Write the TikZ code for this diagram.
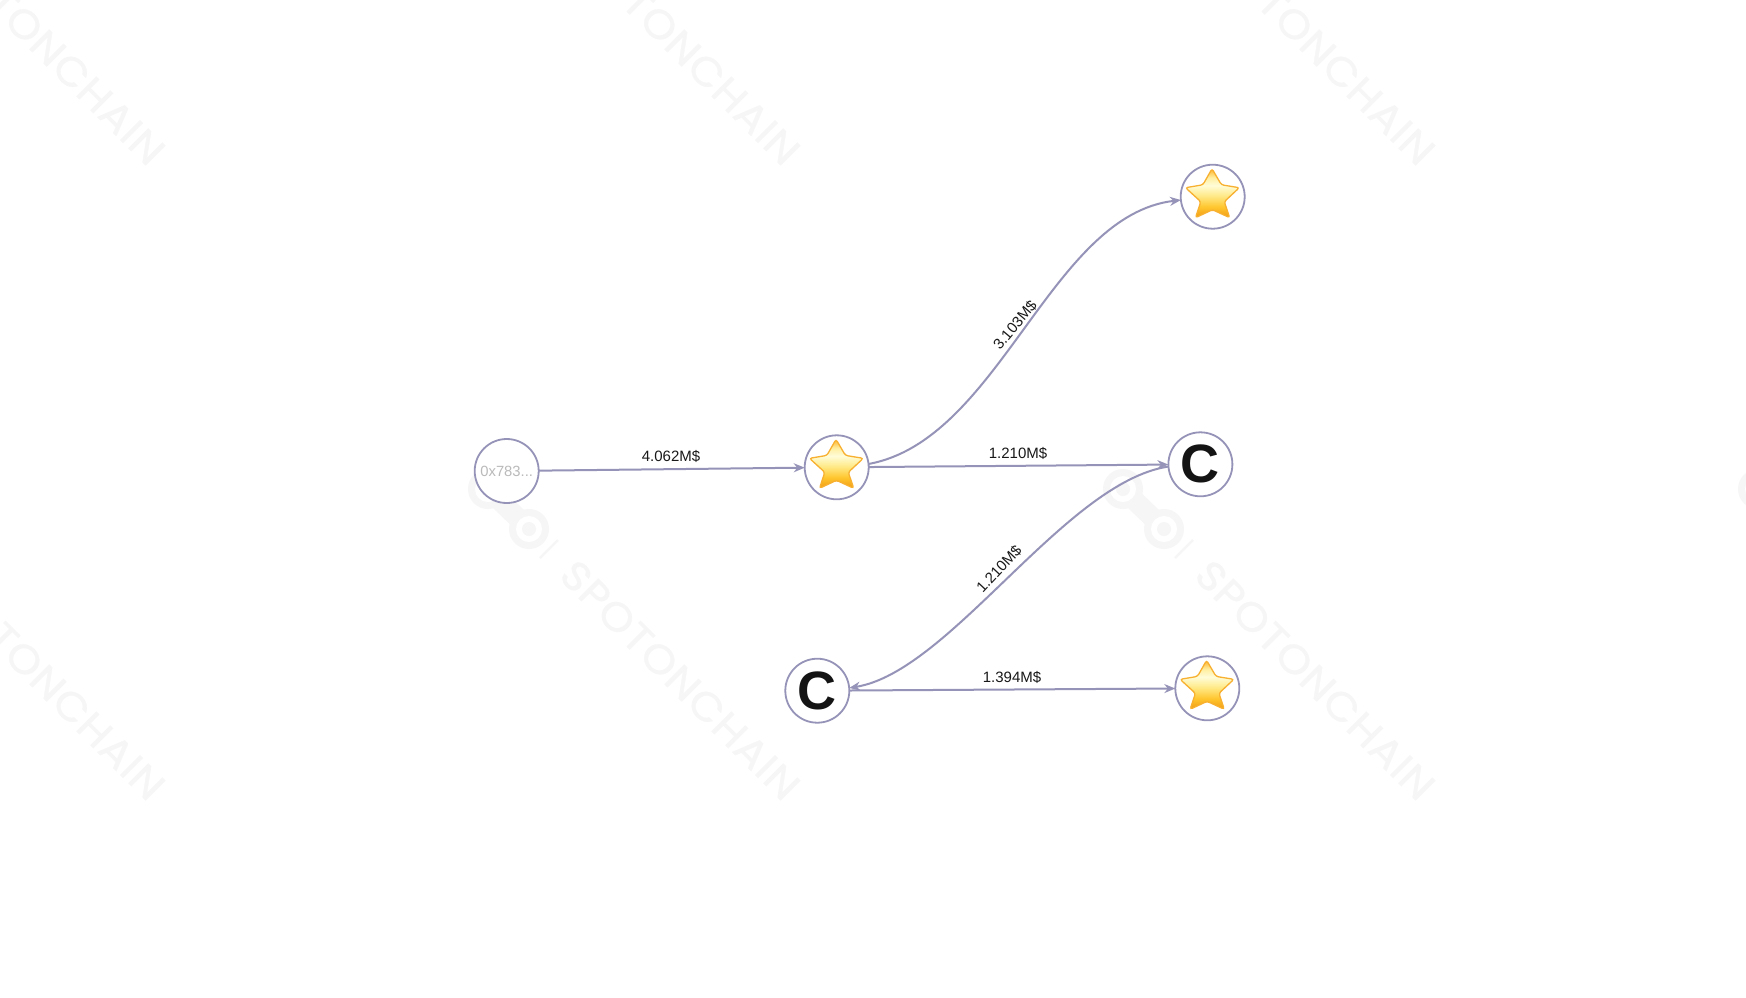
\documentclass[tikz,border=0pt]{standalone}
\usepackage{fontspec}
\usetikzlibrary{arrows.meta}
\setmainfont{Liberation Sans}
\newfontfamily\wmfont[LetterSpace=2,FakeBold=0.7,FakeStretch=1.1]{Poppins}
\definecolor{starA}{HTML}{FFFCD8}
\definecolor{starB}{HTML}{FFEB8C}
\definecolor{starC}{HTML}{F09A12}
\definecolor{starD}{HTML}{FFC62F}
\definecolor{starE}{HTML}{FFEFA0}
\definecolor{starF}{HTML}{FFB22A}
\definecolor{starG}{HTML}{F8B030}
\definecolor{edgec}{HTML}{9693B8}
\definecolor{wm}{HTML}{F6F6F6}
\pgfdeclareverticalshading{starfill}{100bp}{color(0bp)=(starC);color(25bp)=(starC);color(36bp)=(starD);color(48bp)=(starB);color(58bp)=(starA);color(66bp)=(starE);color(75bp)=(starF);color(100bp)=(starF)}
\tikzset{
  addr/.style={circle,draw=edgec,line width=1.8pt,fill=white,minimum size=64pt,inner sep=0pt,outer sep=0pt},
  edge/.style={draw=edgec,line width=2pt,-{Stealth[length=11pt,width=9pt]}},
  lab/.style={font=\fontsize{15}{16}\selectfont,text=black!90,inner sep=0pt},
  cmark/.style={font=\fontsize{54}{54}\selectfont\bfseries,text=black!92},
  wmtext/.style={font=\fontsize{40}{42}\wmfont,text=wm,rotate=-45,anchor=east,inner sep=0pt}
}
\newcommand{\emojistar}[1]{%
  \begin{scope}[shift={(#1)}]
  \shade[shading=starfill,draw=starG,line width=1.3pt,rounded corners=2.4pt]
    (-0.7,-28) -- (8.7,-11.9) -- (26.6,-9) -- (11.6,5) -- (17,21) -- (-0.2,13) -- (-17.2,21) -- (-11.9,5) -- (-27.2,-9) -- (-9.8,-11.9) -- cycle;
  \end{scope}}
\newcommand{\wmring}[2]{%
  \fill[wm] (#1,#2) circle (20);
  \fill[white] (#1,#2) circle (13);
  \fill[wm] (#1,#2) circle (7);}
\newcommand{\wmark}[3]{%
  \begin{scope}[shift={(#1,#2)}]
    \node[wmtext] (wmt#3) at (3,3) {SPOTONCHAIN};
    \draw[wm,line width=20pt] (-294,-293) -- (-269,-269);
    \wmring{-302}{-301}
    \wmring{-261}{-261}
    \draw[wm,line width=2.2pt] (-232,-250) -- (-250,-232);
  \end{scope}}
\begin{document}
\begin{tikzpicture}[x=1pt,y=-1pt]
\useasboundingbox (0,0) rectangle (1746,997);
\fill[white] (0,0) rectangle (1746,997);
\begin{scope}
\clip (0,0) rectangle (1746,997);
\wmark{155}{155}{a}
\wmark{790}{155}{b}
\wmark{1425}{155}{c}
\wmark{155}{790}{d}
\wmark{790}{790}{e}
\wmark{1425}{790}{f}
\wmark{2060}{790}{g}
\end{scope}
\node[addr,text=black!27,font=\fontsize{14.8}{16}\selectfont] (a) at (506.7,471) {0x783...};
\node[addr] (s1) at (836.7,467.3) {};
\node[addr] (s2) at (1212.7,196.7) {};
\node[addr,cmark] (c1) at (1200.4,464.3) {C};
\node[addr,cmark] (c2) at (817.3,690.7) {C};
\node[addr] (s3) at (1207.3,688.3) {};
\emojistar{836.7,467.3}
\emojistar{1212.7,196.7}
\emojistar{1207.3,688.3}
\draw[edge] (a) -- (s1);
\draw[edge] (s1) -- (c1);
\draw[edge] (c2) -- (s3);
\draw[edge] (s1.6) .. controls (1000,440) and (1050,215) .. (s2.186);
\draw[edge] (c1.184) .. controls (1065,482) and (950,672) .. (c2.5);
\node[lab] (l1) at (671,456.7) {4.062M\$};
\node[lab] (l2) at (1018,453) {1.210M\$};
\node[lab] (l3) at (1012,677.3) {1.394M\$};
\node[lab,rotate=50] (l4) at (1015,325) {3.103M\$};
\node[lab,rotate=47] (l5) at (999,569) {1.210M\$};
\end{tikzpicture}
\end{document}
